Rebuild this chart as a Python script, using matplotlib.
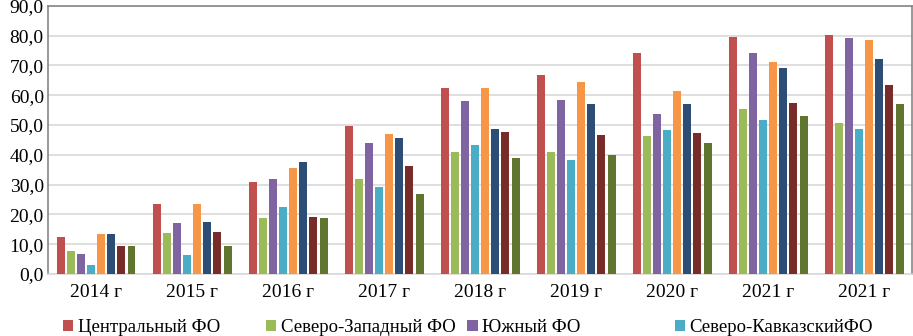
import numpy as np
import matplotlib
matplotlib.use('Agg')
import matplotlib.pyplot as plt
from matplotlib.patches import Patch

plt.rcParams['font.family'] = ['Liberation Serif', 'DejaVu Serif']

# годы (подписи по оси X, как в оригинале)
years = ['2014 г', '2015 г', '2016 г', '2017 г', '2018 г', '2019 г', '2020 г', '2021 г', '2021 г']

# федеральные округа
names = ['Центральный ФО', 'Северо-Западный ФО', 'Южный ФО', 'Северо-КавказскийФО',
         'Приволжский ФО', 'Уральский ФО', 'Сибирский ФО', 'Дальневосточный ФО']

central = [12.4, 23.4, 30.9, 49.7, 62.5, 66.9, 74.3, 79.4, 80.1]
northwest = [7.7, 13.7, 18.7, 31.8, 41.0, 41.0, 46.4, 55.3, 50.7]
south = [6.6, 17.2, 31.8, 43.9, 58.1, 58.4, 53.6, 74.3, 79.2]
caucasus = [2.9, 6.3, 22.4, 29.1, 43.2, 38.4, 48.2, 51.7, 48.7]
volga = [13.3, 23.5, 35.7, 47.0, 62.4, 64.5, 61.3, 71.1, 78.5]
ural = [13.4, 17.6, 37.6, 45.5, 48.7, 56.9, 56.9, 69.1, 72.0]
siberia = [9.3, 14.0, 19.1, 36.2, 47.5, 46.6, 47.3, 57.4, 63.5]
fareast = [9.5, 9.5, 18.7, 26.8, 38.8, 39.9, 44.0, 53.0, 57.0]

series = [central, northwest, south, caucasus, volga, ural, siberia, fareast]
colors = ['#C0504D', '#9BBB59', '#8064A2', '#4BACC6',
          '#F79646', '#2C4D75', '#772C2A', '#5F7530']

fig = plt.figure(figsize=(9.13, 3.36), dpi=100)
ax = fig.add_axes([0.0526, 0.1845, 0.9464, 0.7985])

x = np.arange(len(years))
pitch = 0.1056
width = 0.083
for i, vals in enumerate(series):
    ax.bar(x + (i - 3.5) * pitch, vals, width, color=colors[i], zorder=3)

ax.set_xlim(-0.5, len(years) - 0.5)
ax.set_ylim(0, 90)
ax.set_yticks(np.arange(0, 91, 10))
ax.set_yticklabels([f'{v:.1f}'.replace('.', ',') for v in np.arange(0, 91, 10)])
ax.set_xticks(x)
ax.set_xticklabels(years)
ax.tick_params(length=0, labelsize=14, pad=7)
ax.tick_params(axis='y', pad=3)
ax.grid(axis='y', color='#D9D9D9', linewidth=1.2, zorder=0)

for s in ['top', 'left', 'right']:
    ax.spines[s].set_color('#868686')
    ax.spines[s].set_linewidth(1.2)
ax.spines['bottom'].set_color('#D9D9D9')
ax.spines['bottom'].set_linewidth(1.2)

# легенда: видны только первые четыре округа
leg_x = [0.069, 0.291, 0.512, 0.739]
for i in range(4):
    h = Patch(facecolor=colors[i])
    fig.legend(handles=[h], labels=[names[i]], loc='center left',
               bbox_to_anchor=(leg_x[i], 0.025), frameon=False, fontsize=13.5,
               handlelength=0.55, handleheight=0.55, handletextpad=0.25,
               borderaxespad=0, borderpad=0)

plt.savefig('out.png', dpi=100)
